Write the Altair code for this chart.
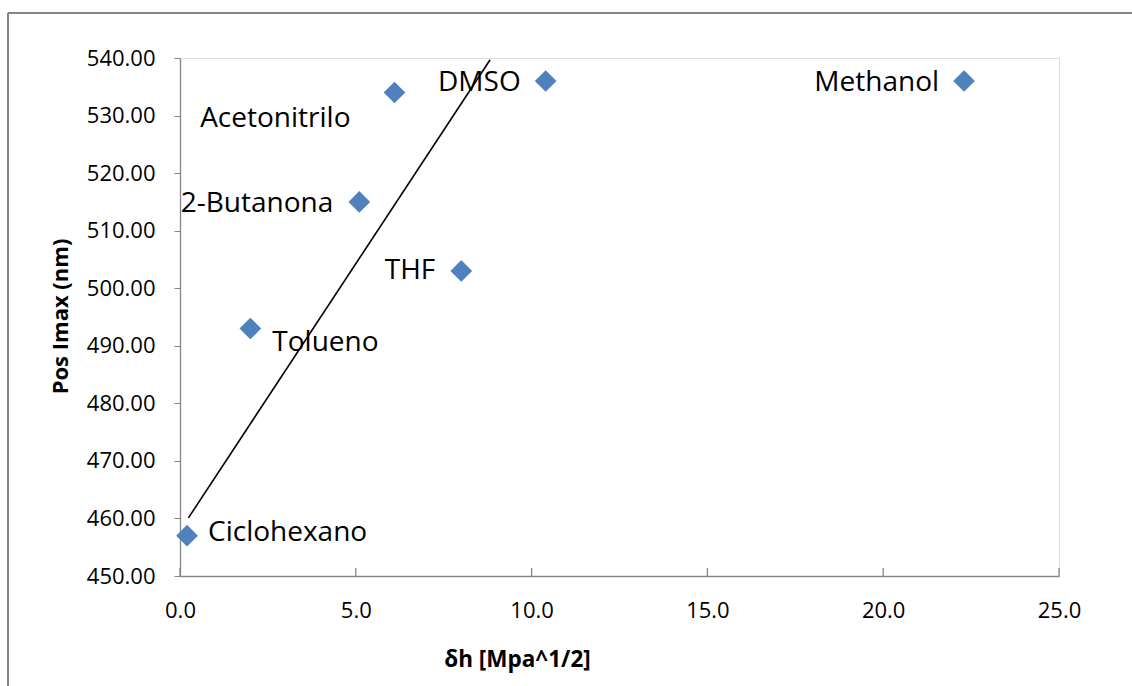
import altair as alt
import pandas as pd

# Solvents: hydrogen-bonding parameter vs. position of the emission maximum
solvents = ["Ciclohexano", "Tolueno", "2-Butanona", "Acetonitrilo", "THF", "DMSO", "Methanol"]
delta_h = [0.2, 2.0, 5.1, 6.1, 8.0, 10.4, 22.3]
pos_imax = [457, 493, 515, 534, 503, 536, 536]

# Linear trend line end points
trend_x = [0.24, 8.82]
trend_y = [460.1, 539.7]

x_ticks = [0, 5, 10, 15, 20, 25]
y_ticks = [450, 460, 470, 480, 490, 500, 510, 520, 530, 540]

W, H = 879, 518
FONT = "Open Sans"
BLUE = "#4F81BD"
AXIS_GREY = "#868686"

pts = pd.DataFrame({"solvent": solvents, "dh": delta_h, "pos": pos_imax})
trend = pd.DataFrame({"dh": trend_x, "pos": trend_y})
xt = pd.DataFrame({"dh": x_ticks})

xscale = alt.Scale(domain=[0, 25], nice=False, zero=False)
yscale = alt.Scale(domain=[450, 540], nice=False, zero=False)

x_axis = alt.Axis(
    title="δh [Mpa^1/2]", values=x_ticks, format=".1f", grid=False,
    ticks=False, domainColor=AXIS_GREY, domainWidth=1.3, labelFlush=False,
    labelFont=FONT, labelFontSize=22, labelColor="black", labelPadding=24,
    titleFont=FONT, titleFontSize=22.5, titleFontWeight="bold", titleColor="black",
    titleX=337, titleY=83, titleBaseline="middle",
)
y_axis = alt.Axis(
    title="Pos Imax (nm)", values=y_ticks, format=".2f", grid=False,
    tickSize=6, tickColor=AXIS_GREY, domainColor=AXIS_GREY, domainWidth=1.3, labelFlush=False,
    labelFont=FONT, labelFontSize=22, labelColor="black", labelPadding=19,
    titleFont=FONT, titleFontSize=22, titleFontWeight="bold", titleColor="black",
    titleX=-120, titleY=258, titleBaseline="middle",
)

base = alt.Chart(pts)

points = base.mark_point(shape="diamond", filled=True, size=470, color=BLUE, opacity=1).encode(
    x=alt.X("dh:Q", scale=xscale, axis=x_axis),
    y=alt.Y("pos:Q", scale=yscale, axis=y_axis),
)

line = alt.Chart(trend).mark_line(color="black", strokeWidth=1.6).encode(
    x=alt.X("dh:Q", scale=xscale),
    y=alt.Y("pos:Q", scale=yscale),
)

# x-axis ticks point up into the plot
xticks = alt.Chart(xt).mark_rule(color=AXIS_GREY, strokeWidth=1.3).encode(
    x=alt.X("dh:Q", scale=xscale),
    y=alt.value(H - 8),
    y2=alt.value(H),
)

# label placement per solvent: (align, dx, dy)
placement = {
    "Ciclohexano": ("left", 21, -3),
    "Tolueno": ("left", 22, 14),
    "2-Butanona": ("right", -26, 2),
    "Acetonitrilo": ("right", -44, 26),
    "THF": ("right", -26, 0),
    "DMSO": ("right", -25, 2),
    "Methanol": ("right", -25, 2),
}
labels = []
for name, (align, dx, dy) in placement.items():
    labels.append(
        base.transform_filter(alt.datum.solvent == name)
        .mark_text(font=FONT, fontSize=28, color="black", align=align, baseline="middle", dx=dx, dy=dy)
        .encode(
            x=alt.X("dh:Q", scale=xscale),
            y=alt.Y("pos:Q", scale=yscale),
            text="solvent:N",
        )
    )

# outer chart frame
frame_top = alt.Chart(xt).mark_rule(color=AXIS_GREY, strokeWidth=1.3, clip=False).encode(
    x=alt.value(-172), x2=alt.value(1000), y=alt.value(-45)
)
frame_left = alt.Chart(xt).mark_rule(color=AXIS_GREY, strokeWidth=1.3, clip=False).encode(
    x=alt.value(-172), y=alt.value(-45), y2=alt.value(700)
)

chart = alt.layer(frame_top, frame_left, line, xticks, points, *labels).properties(
    width=W, height=H,
    autosize=alt.AutoSizeParams(type="none"),
    padding={"left": 180, "top": 58, "right": 73, "bottom": 110},
).configure_view(stroke=None).configure(background="white")

chart.save("out.html", embed_options={"renderer": "svg", "actions": False})
